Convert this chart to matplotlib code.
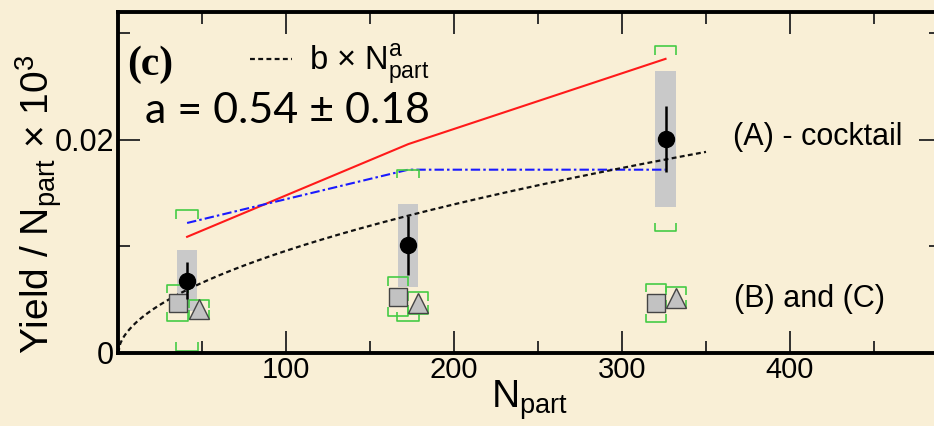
import matplotlib.pyplot as plt
import numpy as np
from matplotlib.patches import Rectangle
from matplotlib.ticker import FixedLocator, FuncFormatter, MultipleLocator

plt.rcParams["font.family"] = ["Liberation Sans", "DejaVu Sans"]
plt.rcParams["mathtext.fontset"] = "custom"
plt.rcParams["mathtext.rm"] = "Liberation Sans"
plt.rcParams["mathtext.it"] = "Liberation Sans"
plt.rcParams["mathtext.default"] = "regular"

BG = "#f9efd6"
GREEN = "#45cc45"

# (A) - cocktail: yield per participant with stat, syst and cocktail uncertainties
npart_a = [41.0, 172.7, 325.9]
yield_a = [0.0068, 0.0101, 0.0201]
stat_a = [0.0017, 0.0028, 0.0031]
syst_a = [0.0029, 0.0039, 0.0064]
cocktail_a = [0.0066, 0.0071, 0.0087]

# (B): squares
npart_b = [35.3, 166.7, 320.2]
yield_b = [0.0047, 0.0053, 0.0047]
syst_b = [0.0017, 0.0018, 0.0018]

# (C): triangles
npart_c = [47.9, 178.7, 332.1]
yield_c = [0.0041, 0.0047, 0.0052]
syst_c = [0.0009, 0.0010, 0.0010]

# model curves evaluated at the same centralities
model_red = [0.0109, 0.0196, 0.0276]
model_blue = [0.0122, 0.0172, 0.0172]

# power-law fit b * Npart^a
fit_a = 0.54
fit_a_err = 0.18
fit_b = 7.98e-4
fit_npart_max = 350


def brackets(ax, xs, ys, errs, half, leg, **kw):
    for x, y, e in zip(xs, ys, errs):
        top, bot = y + e, y - e
        ax.plot([x - half, x - half, x + half, x + half],
                [top - leg, top, top, top - leg], **kw)
        ax.plot([x - half, x - half, x + half, x + half],
                [bot + leg, bot, bot, bot + leg], **kw)


fig = plt.figure(figsize=(9.34, 4.26), dpi=100, facecolor=BG)
ax = fig.add_axes((0.1266, 0.1714, 0.881, 0.8005))
ax.set_facecolor(BG)
ax.set_xlim(0, 490)
ax.set_ylim(0, 0.032)

# grey systematic boxes
for x, y, s in zip(npart_a, yield_a, syst_a):
    ax.add_patch(Rectangle((x - 6, y - s), 12, 2 * s, facecolor="#c9c9c9",
                           edgecolor="none", zorder=1))

# model lines
ax.plot(npart_a, model_red, color="#ff1a1a", lw=1.5, zorder=2)
ax.plot(npart_a, model_blue, color="#1a1aff", lw=1.5,
        dashes=(4.5, 1.5, 1.2, 1.5), zorder=2)

npart_fit = np.linspace(0, fit_npart_max, 300)
fit_line, = ax.plot(npart_fit, fit_b * npart_fit ** fit_a, color="#111111",
                    lw=1.6, dashes=(2.2, 1.5), zorder=2.5)

# green uncertainty brackets
bkw = dict(color=GREEN, lw=1.2, zorder=2.2, solid_capstyle="butt")
brackets(ax, npart_a, yield_a, cocktail_a, 6.5, 0.0008, **bkw)
brackets(ax, npart_b, yield_b, syst_b, 6.0, 0.0008, **bkw)
brackets(ax, npart_c, yield_c, syst_c, 6.0, 0.0008, **bkw)

# (B) and (C) markers
ax.plot(npart_b, yield_b, ls="none", marker="s", ms=12.5, mfc="#c2c2c2",
        mec="#444444", mew=1.0, zorder=3)
ax.plot(npart_c, yield_c, ls="none", marker="^", ms=14, mfc="#c2c2c2",
        mec="#444444", mew=1.0, zorder=3)

# (A) data with stat errors
ax.errorbar(npart_a, yield_a, yerr=stat_a, fmt="o", ms=11.5, color="black",
            elinewidth=1.8, capsize=0, zorder=4)

# axes styling
for sp in ax.spines.values():
    sp.set_linewidth(2.8)
ax.xaxis.set_major_locator(FixedLocator([100, 200, 300, 400]))
ax.xaxis.set_minor_locator(FixedLocator([50, 150, 250, 350, 450]))
ax.yaxis.set_major_locator(MultipleLocator(0.02))
ax.yaxis.set_minor_locator(MultipleLocator(0.01))
ax.yaxis.set_major_formatter(FuncFormatter(lambda v, _: "0" if v == 0 else f"{v:g}"))
ax.tick_params(which="both", direction="in", top=True, right=True,
               color="#222222", width=1.3)
ax.tick_params(axis="x", labelsize=21, pad=2)
ax.tick_params(axis="y", labelsize=22, pad=3)
ax.tick_params(which="major", length=16)
ax.tick_params(which="minor", length=8.5)

ax.set_xlabel(r"N$_{\mathregular{part}}$", fontsize=28)
ax.xaxis.label.set_va("baseline")
ax.xaxis.set_label_coords(0.5, -0.161)
ax.set_ylabel(r"Yield / N$_{\mathregular{part}}$ × 10$^{\mathregular{3}}$", fontsize=28)
ax.yaxis.label.set_va("baseline")
ax.yaxis.set_label_coords(-0.083, 0.437)

# annotations
ax.text(0.011, 0.815, "(c)", transform=ax.transAxes, family="Liberation Serif",
        weight="bold", fontsize=30, va="baseline")
ax.text(15.9, 0.0216, f"a = {fit_a:.2f} ± {fit_a_err:.2f}", family="Lato",
        fontsize=31, va="baseline")
ax.text(366.0, 0.0195, "(A) - cocktail", fontsize=22, va="baseline")
ax.text(366.5, 0.0043, "(B) and (C)", fontsize=22, va="baseline")

ax.legend([fit_line], [r"b × N$^{\mathregular{a}}_{\mathregular{part}}$"],
          loc="center left", bbox_to_anchor=(0.160, 0.846), frameon=False,
          fontsize=23.5, handlelength=1.3, handletextpad=0.5, borderpad=0,
          borderaxespad=0)

fig.savefig("out.png", dpi=100, facecolor=BG)
